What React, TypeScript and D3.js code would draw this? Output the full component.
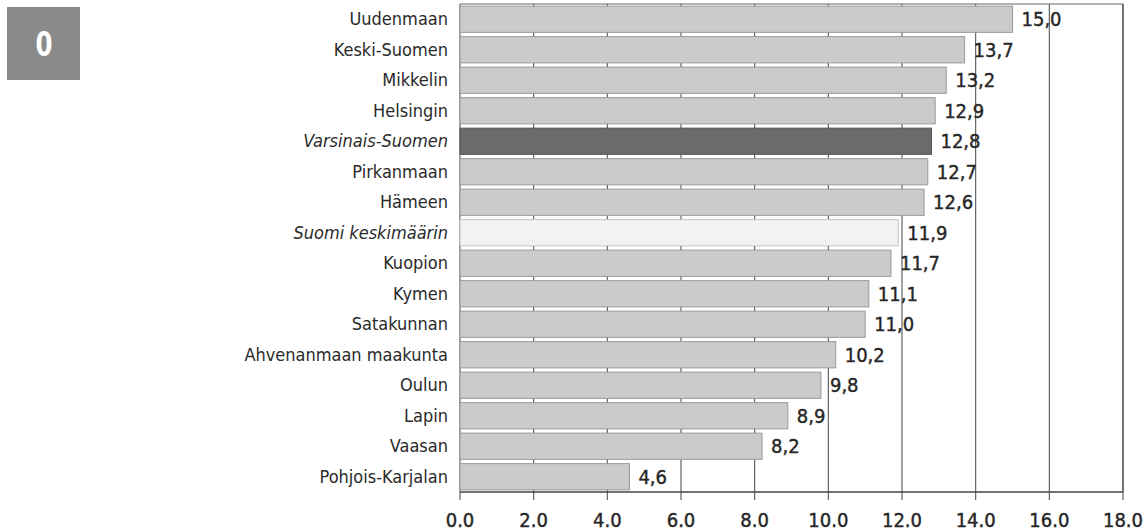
import React from "react";
import * as d3 from "d3";

const categories = [
  "Uudenmaan",
  "Keski-Suomen",
  "Mikkelin",
  "Helsingin",
  "Varsinais-Suomen",
  "Pirkanmaan",
  "Hämeen",
  "Suomi keskimäärin",
  "Kuopion",
  "Kymen",
  "Satakunnan",
  "Ahvenanmaan maakunta",
  "Oulun",
  "Lapin",
  "Vaasan",
  "Pohjois-Karjalan",
];
const values = [15.0, 13.7, 13.2, 12.9, 12.8, 12.7, 12.6, 11.9, 11.7, 11.1, 11.0, 10.2, 9.8, 8.9, 8.2, 4.6];
const ticks = [0, 2, 4, 6, 8, 10, 12, 14, 16, 18];
const highlight = "Varsinais-Suomen";
const average = "Suomi keskimäärin";

const W = 1145;
const H = 531;
const left = 460;
const right = 1123;
const top = 4;
const bottom = 492;
const FONT = "'DejaVu Sans Condensed', 'Liberation Sans Narrow', sans-serif";

export default function App() {
  const x = d3.scaleLinear().domain([0, 18]).range([left, right]);
  const y = d3.scaleBand<string>().domain(categories).range([top, bottom]).paddingInner(0.14).paddingOuter(0.07);

  return (
    <svg width={W} height={H} style={{ position: "absolute", left: 0, top: 0, background: "#fff" }}>
      <rect x={7} y={7} width={73} height={73} fill="#8a8a8a" />
      <text
        x={44}
        y={56}
        textAnchor="middle"
        fill="#fff"
        fontFamily={FONT}
        fontWeight="bold"
        fontSize={34}
        transform="translate(44,0) scale(0.8,1) translate(-44,0)"
      >
        0
      </text>

      {ticks.map((t) => (
        <line key={"g" + t} x1={x(t)} x2={x(t)} y1={top} y2={bottom + 8} stroke="#555" strokeWidth={1.1} />
      ))}
      <line x1={left} x2={right} y1={top} y2={top} stroke="#666" strokeWidth={1.2} />
      <line x1={left} x2={right} y1={bottom} y2={bottom} stroke="#444" strokeWidth={1.4} />
      <line x1={right} x2={right} y1={top} y2={bottom} stroke="#555" strokeWidth={1.2} />

      {categories.map((c, i) => {
        const v = values[i];
        const fill = c === highlight ? "#6b6b6b" : c === average ? "#f2f2f2" : "#cbcbcb";
        const stroke = c === highlight ? "#555" : c === average ? "#c4c4c4" : "#999";
        const by = y(c)!;
        const bh = y.bandwidth();
        return (
          <g key={c}>
            <rect x={x(0)} y={by} width={x(v) - x(0)} height={bh} fill={fill} stroke={stroke} strokeWidth={1} />
            <text
              x={x(v) + 9}
              y={by + bh / 2 + 7}
              fontFamily={FONT}
              fontSize={20}
              fill="#262626"
              stroke="#262626"
              strokeWidth={0.4}
            >
              {v.toFixed(1).replace(".", ",")}
            </text>
            <text
              x={448}
              y={by + bh / 2 + 6}
              textAnchor="end"
              fontFamily={FONT}
              fontSize={18}
              fontStyle={c === highlight || c === average ? "italic" : "normal"}
              fill="#2a2a2a"
            >
              {c}
            </text>
          </g>
        );
      })}

      {ticks.map((t) => (
        <text
          key={"t" + t}
          x={x(t)}
          y={527}
          textAnchor="middle"
          fontFamily={FONT}
          fontSize={20}
          fill="#262626"
          stroke="#262626"
          strokeWidth={0.4}
        >
          {t.toFixed(1)}
        </text>
      ))}
    </svg>
  );
}
